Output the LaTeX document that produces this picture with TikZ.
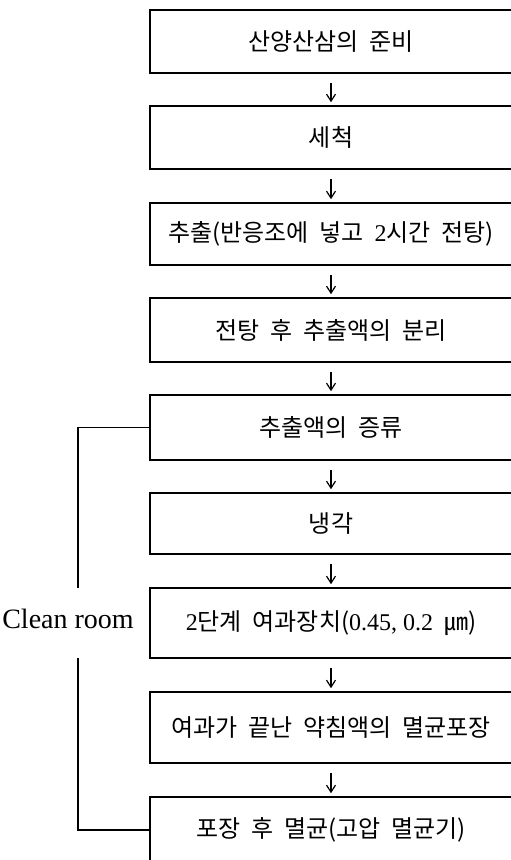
\documentclass[tikz,border=0pt]{standalone}
\usepackage{fontspec}
\setmainfont{Liberation Serif}
\newfontfamily\kr{Noto Sans CJK KR}
\newcommand\krwide{\spaceskip=0.45em\relax}
\newcommand\latn[1]{{\rmfamily\spaceskip=0pt\relax #1}}
\usetikzlibrary{arrows.meta}
\begin{document}
\begin{tikzpicture}[x=1pt,y=-1pt,
  stepbox/.style={draw, line width=1.6pt, minimum width=362pt, inner sep=0pt,
    font=\kr\fontsize{24}{27}\selectfont, execute at begin node=\krwide},
  arr/.style={line width=1.2pt, -{Straight Barb[length=7pt,width=9pt,line width=1.2pt]}},
  brk/.style={line width=1.4pt},
  lbl/.style={font=\fontsize{28}{32}\selectfont, inner sep=0pt}]
\useasboundingbox[fill=white] (0,0) rectangle (511,860);
\node[stepbox, minimum height=63pt] (b1) at (331,41.5) {산양산삼의 준비};
\node[stepbox, minimum height=63pt] (b2) at (331,137.5) {세척};
\node[stepbox, minimum height=62pt] (b3) at (331,234) {추출(반응조에 넣고 \latn{2}시간 전탕)};
\node[stepbox, minimum height=64pt] (b4) at (331,330) {전탕 후 추출액의 분리};
\node[stepbox, minimum height=65pt] (b5) at (331,427.5) {추출액의 증류};
\node[stepbox, minimum height=61pt] (b6) at (331,523.5) {냉각};
\node[stepbox, minimum height=70pt] (b7) at (331,623) {\latn{2}단계 여과장치(\latn{0.45, 0.2}\ ㎛)};
\node[stepbox, minimum height=71pt] (b8) at (331,727.5) {여과가 끝난 약침액의 멸균포장};
\node[stepbox, minimum height=66pt] (b9) at (331,830) {포장 후 멸균(고압 멸균기)};
\foreach \a/\b in {b1/b2,b2/b3,b3/b4,b4/b5,b5/b6,b6/b7,b7/b8,b8/b9}
  \draw[arr] ([yshift=-9pt]\a.south) -- ([yshift=3pt]\b.north);
\node[lbl] (cr) at (68,619) {Clean room};
\coordinate (bt) at (78,588);
\coordinate (bb) at (78,658);
\draw[brk] (b5.west) -| (bt);
\draw[brk] (b9.west) -| (bb);
\end{tikzpicture}
\end{document}
